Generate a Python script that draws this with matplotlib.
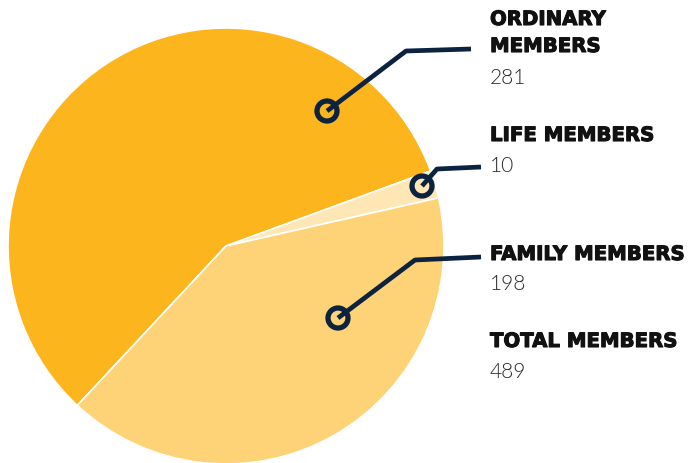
import matplotlib
matplotlib.use("Agg")
import matplotlib.pyplot as plt
from matplotlib.patches import Circle
import matplotlib.patheffects as pe

categories = ["ORDINARY\nMEMBERS", "LIFE MEMBERS", "FAMILY MEMBERS"]
values = [281, 10, 198]
total_label = "TOTAL MEMBERS"
total_value = 489
colors = ["#FDB51D", "#FEE7B5", "#FED276"]
navy = "#0C2340"

W, H = 689, 464
fig = plt.figure(figsize=(W / 100, H / 100), dpi=100)
ax = fig.add_axes([0, 0, 1, 1])
ax.set_xlim(0, W)
ax.set_ylim(0, H)
ax.set_aspect("equal")
ax.axis("off")

def Y(py):
    return H - py

ax.pie(values, colors=colors, startangle=227, counterclock=False,
       center=(226, Y(247)), radius=218,
       wedgeprops=dict(edgecolor="white", linewidth=1.2))
ax.set_xlim(0, W)
ax.set_ylim(0, H)

# leader lines (pixel positions of the reference layout)
leaders = [
    [(327, 112), (406, 52), (471, 50)],
    [(422, 187), (437, 170), (481, 168)],
    [(338, 319), (415, 261), (481, 258)],
]
for pts in leaders:
    xs = [p[0] for p in pts]
    ys = [Y(p[1]) for p in pts]
    ax.plot(xs, ys, color=navy, lw=3.4, solid_capstyle="butt", zorder=5)
    ax.add_patch(Circle((xs[0], ys[0]), 10, facecolor="none",
                        edgecolor=navy, lw=3.8, zorder=6))

thick = [pe.withStroke(linewidth=0.8, foreground="#111111")]
bold = dict(family="DejaVu Sans", weight="bold", fontsize=14.2, color="#111111",
            ha="left", va="baseline", path_effects=thick)
light = dict(family="Lato", weight=300, fontsize=15, color="#2a2a2a",
             ha="left", va="baseline")
tx = 490
ax.text(tx, Y(26), "ORDINARY", **bold)
ax.text(tx, Y(53), "MEMBERS", **bold)
ax.text(tx, Y(84), str(values[0]), **light)
ax.text(tx, Y(142), categories[1], **bold)
ax.text(tx, Y(172), str(values[1]), **light)
ax.text(tx, Y(261), categories[2], **bold)
ax.text(tx, Y(290), str(values[2]), **light)
ax.text(tx, Y(348), total_label, **bold)
ax.text(tx, Y(378), str(total_value), **light)

fig.savefig("out.png", dpi=100)
